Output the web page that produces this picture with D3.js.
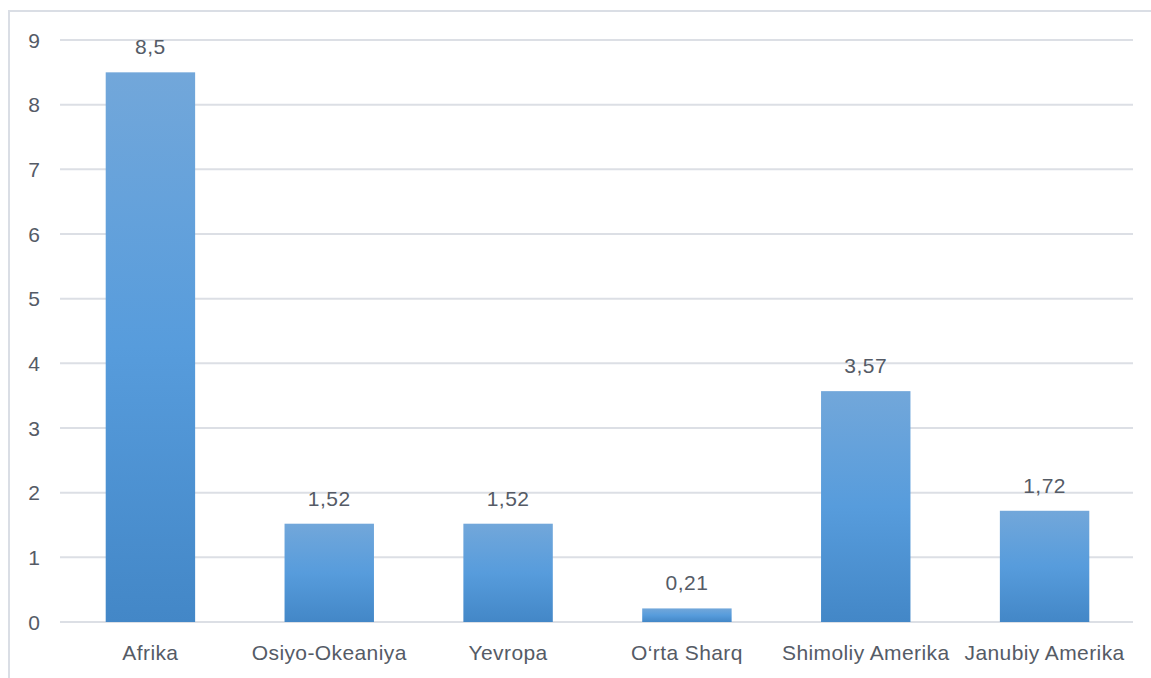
<!DOCTYPE html>
<html>
<head>
<meta charset="utf-8">
<style>
  body { margin: 0; background: #fff; }
  svg { display: block; font-family: "Liberation Sans", Arial, sans-serif; }
</style>
</head>
<body>
<svg></svg>
<script src="https://d3js.org/d3.v7.min.js"></script>
<script>
const categories = ["Afrika", "Osiyo-Okeaniya", "Yevropa", "O\u2018rta Sharq", "Shimoliy Amerika", "Janubiy Amerika"];
const values = [8.5, 1.52, 1.52, 0.21, 3.57, 1.72];
const yTicks = [0, 1, 2, 3, 4, 5, 6, 7, 8, 9];

const width = 1151, height = 678;
const margin = {top: 40, right: 18, bottom: 56, left: 60};
const plotW = width - margin.left - margin.right;
const plotH = height - margin.top - margin.bottom;

const svg = d3.select("svg").attr("width", width).attr("height", height);

// chart area border
svg.append("rect")
    .attr("x", 9).attr("y", 11)
    .attr("width", width + 20).attr("height", height + 20)
    .attr("fill", "none").attr("stroke", "#dadee5").attr("stroke-width", 2);

const defs = svg.append("defs");
const grad = defs.append("linearGradient")
    .attr("id", "barGrad").attr("x1", 0).attr("y1", 0).attr("x2", 0).attr("y2", 1);
grad.append("stop").attr("offset", "0%").attr("stop-color", "#72a7da");
grad.append("stop").attr("offset", "50%").attr("stop-color", "#579cdc");
grad.append("stop").attr("offset", "100%").attr("stop-color", "#4387c7");

const g = svg.append("g").attr("transform", "translate(" + margin.left + "," + margin.top + ")");

const x = d3.scaleBand().domain(categories).range([0, plotW]).paddingInner(0.5).paddingOuter(0.25);
const y = d3.scaleLinear().domain([0, 9]).range([plotH, 0]);

const fmt = d => String(d).replace(".", ",");

// gridlines
g.selectAll("line.grid")
    .data(yTicks)
    .enter().append("line")
    .attr("class", "grid")
    .attr("x1", 0).attr("x2", plotW)
    .attr("y1", d => y(d)).attr("y2", d => y(d))
    .attr("stroke", "#dcdfe5").attr("stroke-width", 2);

// y labels
g.selectAll("text.ytick")
    .data(yTicks)
    .enter().append("text")
    .attr("class", "ytick")
    .attr("x", -20).attr("y", d => y(d))
    .attr("dy", "0.36em")
    .attr("text-anchor", "end")
    .attr("font-size", 21)
    .attr("fill", "#555b66")
    .text(d => d);

// bars
g.selectAll("rect.bar")
    .data(values)
    .enter().append("rect")
    .attr("class", "bar")
    .attr("x", (d, i) => x(categories[i]) + 1)
    .attr("y", d => y(d))
    .attr("width", x.bandwidth())
    .attr("height", d => plotH - y(d))
    .attr("fill", "url(#barGrad)");

// value labels
g.selectAll("text.val")
    .data(values)
    .enter().append("text")
    .attr("class", "val")
    .attr("x", (d, i) => x(categories[i]) + x.bandwidth() / 2 + 1)
    .attr("y", d => y(d) - 18)
    .attr("text-anchor", "middle")
    .attr("font-size", 21)
    .attr("letter-spacing", 0.5)
    .attr("fill", "#555b66")
    .text(fmt);

// category labels
g.selectAll("text.cat")
    .data(categories)
    .enter().append("text")
    .attr("class", "cat")
    .attr("x", d => x(d) + x.bandwidth() / 2 + 1)
    .attr("y", plotH + 38)
    .attr("text-anchor", "middle")
    .attr("font-size", 21)
    .attr("letter-spacing", 0.4)
    .attr("fill", "#555b66")
    .text(d => d);
</script>
</body>
</html>
